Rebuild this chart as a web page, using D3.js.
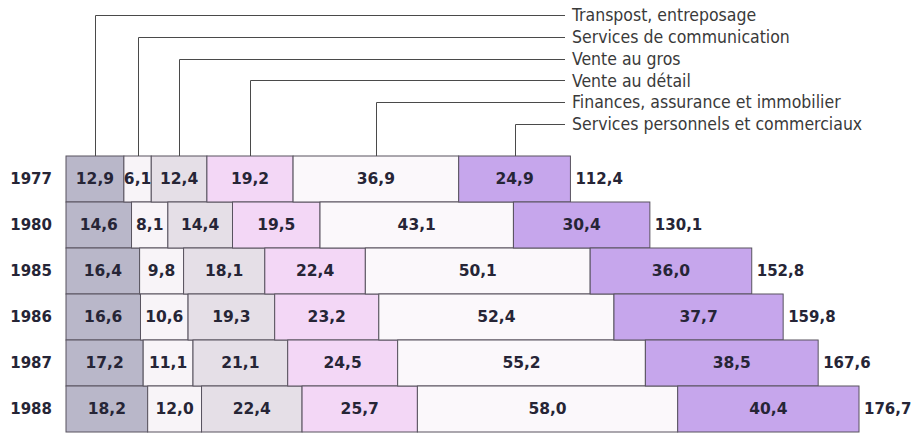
<!DOCTYPE html>
<html lang="fr">
<head>
<meta charset="UTF-8">
<title>Services - PIB par secteur</title>
<script src="https://d3js.org/d3.v7.min.js"></script>
<style>
  body { margin: 0; background: #fff; }
  svg { display: block; }
  .legend text { font-family: "DejaVu Sans Condensed", "DejaVu Sans", sans-serif; font-stretch: condensed; font-size: 17.5px; fill: #3a3a3a; }
  .num { font-family: "DejaVu Sans", sans-serif; font-weight: bold; fill: #262536; }
</style>
</head>
<body>
<svg width="914" height="434"></svg>
<script>
// categories (rows)
const years = ['1977', '1980', '1985', '1986', '1987', '1988'];
// series, left to right
const sectors = [
  'Transpost, entreposage',
  'Services de communication',
  'Vente au gros',
  'Vente au détail',
  'Finances, assurance et immobilier',
  'Services personnels et commerciaux'
];
const transport = [12.9, 14.6, 16.4, 16.6, 17.2, 18.2];
const communication = [6.1, 8.1, 9.8, 10.6, 11.1, 12.0];
const gros = [12.4, 14.4, 18.1, 19.3, 21.1, 22.4];
const detail = [19.2, 19.5, 22.4, 23.2, 24.5, 25.7];
const finances = [36.9, 43.1, 50.1, 52.4, 55.2, 58.0];
const personnels = [24.9, 30.4, 36.0, 37.7, 38.5, 40.4];
const totals = [112.4, 130.1, 152.8, 159.8, 167.6, 176.7];

const colors = ['#b9b7c9', '#f8f4f8', '#e5dfe7', '#f3d7f6', '#fbf8fb', '#c6a6ec'];

const seriesValues = [transport, communication, gros, detail, finances, personnels];
const table = years.map((y, i) => {
  const row = { year: y, total: totals[i] };
  sectors.forEach((s, j) => { row[s] = seriesValues[j][i]; });
  return row;
});

const stacked = d3.stack().keys(sectors)(table);

const svg = d3.select('svg');

const x = d3.scaleLinear()
  .domain([0, d3.max(totals)])
  .range([66, 859]);

const y = d3.scaleBand()
  .domain(years)
  .range([156, 156 + 46 * years.length])
  .padding(0);

const fmt = v => d3.format('.1f')(v).replace('.', ',');

// bars
const layers = svg.append('g')
  .selectAll('g')
  .data(stacked)
  .join('g')
  .attr('fill', (d, i) => colors[i]);

layers.selectAll('rect')
  .data(d => d)
  .join('rect')
  .attr('x', d => x(d[0]))
  .attr('y', d => y(d.data.year))
  .attr('width', d => x(d[1]) - x(d[0]))
  .attr('height', y.bandwidth())
  .attr('stroke', '#58535f')
  .attr('stroke-width', 1);

// values inside the segments
layers.selectAll('text')
  .data(d => d)
  .join('text')
  .attr('class', 'num')
  .attr('x', d => (x(d[0]) + x(d[1])) / 2)
  .attr('y', d => y(d.data.year) + y.bandwidth() / 2)
  .attr('dy', '0.35em')
  .attr('text-anchor', 'middle')
  .attr('font-size', 15.5)
  .text(d => fmt(d[1] - d[0]));

// totals
svg.append('g')
  .selectAll('text')
  .data(table)
  .join('text')
  .attr('class', 'num')
  .attr('x', d => x(d.total) + 5)
  .attr('y', d => y(d.year) + y.bandwidth() / 2)
  .attr('dy', '0.35em')
  .attr('font-size', 15)
  .text(d => fmt(d.total));

// year axis
const yAxis = svg.append('g')
  .attr('transform', 'translate(52,0)')
  .call(d3.axisLeft(y).tickSize(0).tickPadding(0));
yAxis.select('.domain').remove();
yAxis.selectAll('text')
  .attr('class', 'num')
  .attr('font-size', 15)
  .attr('dy', '0.35em');

// legend with leader lines to the 1977 bar
const legendY = d3.scalePoint()
  .domain(sectors)
  .range([15, 124]);

const first = stacked.map(s => s[0]);
const legend = svg.append('g').attr('class', 'legend');

legend.selectAll('path')
  .data(sectors)
  .join('path')
  .attr('fill', 'none')
  .attr('stroke', '#4a4a4a')
  .attr('stroke-width', 1)
  .attr('d', (s, i) => {
    const cx = Math.round((x(first[i][0]) + x(first[i][1])) / 2) + 0.5;
    const ly = Math.round(legendY(s)) + 0.5;
    return `M${cx},${y(years[0])}V${ly}H565`;
  });

legend.selectAll('text')
  .data(sectors)
  .join('text')
  .attr('x', 572)
  .attr('y', s => legendY(s))
  .attr('dy', '0.35em')
  .text(s => s);
</script>
</body>
</html>
